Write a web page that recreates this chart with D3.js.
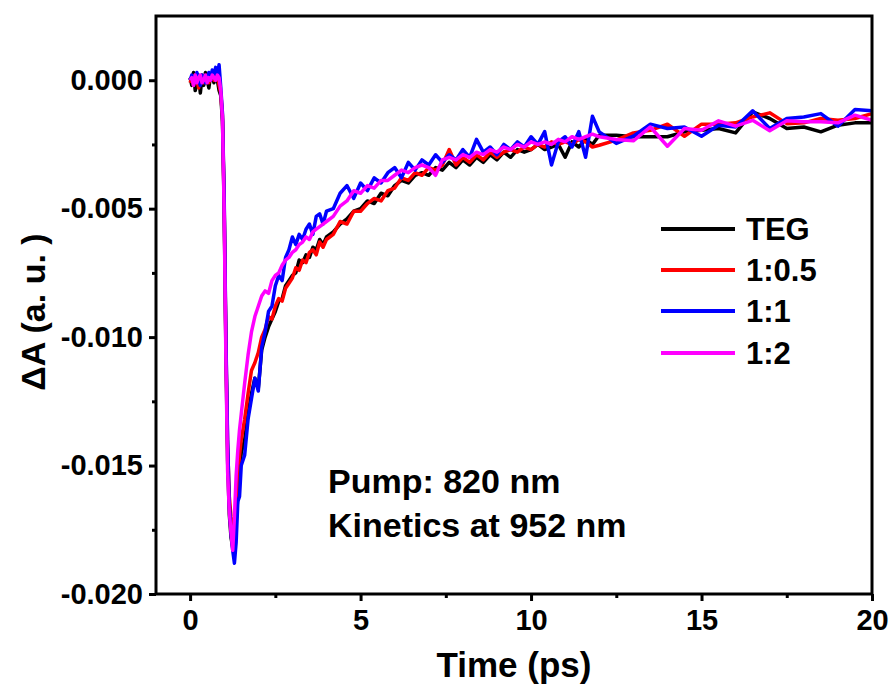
<!DOCTYPE html>
<html>
<head>
<meta charset="utf-8">
<script src="https://cdn.jsdelivr.net/npm/d3@7"></script>
<style>
  body { margin: 0; background: #fff; }
  svg text { font-family: "Liberation Sans", Arial, sans-serif; font-weight: bold; fill: #000; }
</style>
</head>
<body>
<div id="canvas"></div>
<script>
// Tiempos (ps)
const time = [
  0, 0.05, 0.1, 0.15, 0.2, 0.25, 0.3, 0.35, 0.4, 0.45, 0.5, 0.55, 0.6, 0.65, 0.7, 0.75, 0.8, 0.85, 0.9,
  0.95, 1, 1.05, 1.1, 1.15, 1.2, 1.25, 1.3, 1.35, 1.4, 1.45, 1.5,
  1.6, 1.7, 1.8, 1.9, 2, 2.1, 2.2, 2.3, 2.4, 2.5, 2.6, 2.7, 2.8, 2.9, 3, 3.1, 3.2, 3.3, 3.4, 3.5, 3.6, 3.7, 3.8, 3.9, 4,
  4.2, 4.4, 4.6, 4.8, 5, 5.2, 5.4, 5.6, 5.8, 6, 6.2, 6.4, 6.6, 6.8, 7, 7.2, 7.4, 7.6, 7.8, 8, 8.2, 8.4, 8.6, 8.8, 9,
  9.2, 9.4, 9.6, 9.8, 10, 10.2, 10.4, 10.6, 10.8, 11, 11.2, 11.4, 11.6, 11.8,
  12, 12.5, 13, 13.5, 14, 14.5, 15, 15.5, 16, 16.5, 17, 17.5, 18, 18.5, 19, 19.5, 20
];

// Valores de ΔA en unidades de 1e-3
const teg = [
  0.1, -0.2, 0.3, -0.4, -0.1, 0.2, -0.5, 0.1, -0.2, 0.3, 0.0, -0.3, 0.2, 0.1, -0.1, 0.3, 0.0, -0.4, -0.6,
  -1.6, -5.0, -10.5, -14.8, -16.9, -17.8, -18.2, -18.4, -17.2, -16.2, -15.3, -14.5,
  -14.0, -13.0, -12.2, -11.6, -12.0, -10.5, -10.0, -9.6, -9.3, -9.0, -8.6, -8.5, -8.0, -7.8, -7.6, -7.5, -7.0, -7.1, -6.8, -6.9, -6.5, -6.6, -6.2, -6.4, -6.1,
  -5.9, -5.6, -5.4, -5.1, -5.0, -4.7, -4.8, -4.4, -4.5, -4.1, -3.9, -4.0, -3.7, -3.6, -3.7, -3.4, -3.5, -3.2, -3.4, -3.1, -3.3, -3.0, -3.2, -2.9, -3.1,
  -2.8, -3.0, -2.7, -2.8, -2.7, -2.5, -2.7, -2.6, -2.5, -3.0, -2.4, -2.6, -2.3, -2.5,
  -2.14, -2.14, -2.20, -2.20, -2.20, -2.01, -1.95, -1.88, -2.05, -1.23, -1.49, -1.88, -1.82, -2.01, -1.75, -1.66, -1.66
];
const r05 = [
  -0.1, 0.1, -0.2, 0.2, 0.0, -0.3, 0.1, 0.2, -0.1, 0.0, 0.2, -0.1, 0.1, 0.2, 0.0, 0.1, 0.2, -0.2, -0.5,
  -1.4, -4.8, -10.2, -14.2, -16.2, -17.0, -17.5, -17.2, -16.6, -15.4, -14.6, -14.0,
  -13.2, -12.2, -11.3, -11.0, -10.6, -10.0, -9.7, -9.2, -9.3, -8.8, -8.5, -8.6, -8.1, -7.9, -7.7, -7.3, -7.4, -7.0, -7.1, -6.7, -6.6, -6.8, -6.3, -6.5, -6.2,
  -6.0, -5.5, -5.6, -5.1, -5.1, -4.8, -4.6, -4.7, -4.3, -4.2, -3.8, -3.9, -3.6, -3.7, -3.4, -3.5, -3.3, -2.7, -3.3, -3.0, -3.2, -2.9, -3.1, -2.8, -3.0,
  -2.8, -2.7, -2.8, -2.6, -2.7, -2.5, -2.6, -2.4, -2.5, -2.4, -2.5, -2.3, -2.4, -2.6,
  -2.53, -2.33, -2.05, -1.95, -1.71, -2.18, -1.71, -1.71, -1.66, -1.43, -1.27, -1.69, -1.66, -1.49, -1.56, -1.49, -1.30
];
const r1 = [
  0.0, 0.2, 0.1, -0.1, 0.3, 0.0, -0.2, 0.2, 0.1, -0.1, 0.1, 0.3, 0.0, 0.4, 0.2, 0.5, 0.2, 0.6, -0.3,
  -1.3, -4.6, -10.0, -14.0, -16.5, -17.6, -18.3, -18.8, -18.0, -16.4, -16.2, -15.0,
  -14.6, -13.2, -12.4, -11.6, -12.1, -10.4, -9.8, -9.0, -8.8, -8.0, -7.6, -7.8, -6.9, -6.6, -6.1, -6.4, -6.0, -6.2, -5.8, -5.6, -6.0, -5.3, -5.2, -5.6, -5.1,
  -5.0, -4.4, -4.1, -4.6, -4.0, -4.3, -3.8, -4.0, -3.6, -3.4, -3.8, -3.2, -3.5, -3.1, -3.3, -2.9, -3.2, -2.9, -3.1, -2.7, -3.0, -2.3, -2.8, -2.6, -2.9,
  -2.5, -2.7, -2.4, -2.6, -2.2, -2.5, -2.0, -3.3, -2.4, -2.2, -2.6, -2.0, -3.0, -1.4,
  -2.01, -2.46, -2.18, -1.71, -1.88, -1.82, -2.18, -1.75, -1.82, -1.19, -1.88, -1.49, -1.43, -1.30, -1.79, -1.14, -1.19
];
const r2 = [
  0.0, 0.1, -0.2, 0.2, -0.1, 0.1, 0.2, -0.1, 0.0, 0.2, -0.1, 0.1, 0.0, 0.2, 0.1, 0.0, 0.2, 0.1, -0.4,
  -1.5, -5.2, -10.8, -15.2, -16.8, -17.6, -18.3, -17.0, -15.4, -14.4, -13.6, -13.0,
  -11.8, -10.7, -9.8, -9.2, -8.8, -8.4, -8.2, -8.3, -7.8, -7.6, -7.5, -7.2, -7.0, -6.9, -6.7, -6.6, -6.4, -6.3, -6.1, -6.2, -5.9, -5.8, -5.7, -5.6, -5.5,
  -5.3, -4.9, -4.7, -4.3, -4.4, -4.1, -4.2, -3.9, -3.9, -3.7, -3.5, -3.6, -3.4, -3.3, -3.4, -3.7, -3.1, -3.0, -3.1, -2.9, -3.0, -2.8, -2.9, -2.7, -2.8,
  -2.6, -2.7, -2.5, -2.6, -2.4, -2.5, -2.4, -2.5, -2.3, -2.4, -2.2, -2.3, -2.2, -2.1,
  -2.20, -2.31, -2.36, -1.82, -2.57, -1.88, -1.95, -1.58, -1.79, -1.56, -1.97, -1.58, -1.62, -1.62, -1.66, -1.36, -1.56
];

// Nombres y colores de las series
const seriesNames = ["TEG", "1:0.5", "1:1", "1:2"];
const seriesColors = ["#000000", "#ff0000", "#0000ff", "#ff00ff"];
const seriesValues = [teg, r05, r1, r2];

// Ticks de los ejes
const xTicks = [0, 5, 10, 15, 20];
const xMinor = [2.5, 7.5, 12.5, 17.5];
const yTicks = [0, -0.005, -0.010, -0.015, -0.020];
const yMinor = [-0.0025, -0.0075, -0.0125, -0.0175];

// Caracteristicas del canvas
const width = 889;
const height = 691;
const margin = {top: 16, left: 156, bottom: 97, right: 17};
const iwidth = width - margin.left - margin.right;
const iheight = height - margin.top - margin.bottom;

const svg = d3.select("#canvas").append("svg")
    .attr("width", width)
    .attr("height", height);

const g = svg.append("g").attr("transform", `translate(${margin.left}, ${margin.top})`);

const x = d3.scaleLinear().domain([-1, 20]).range([0, iwidth]);
const y = d3.scaleLinear().domain([-0.020, 0.0025]).range([iheight, 0]);

// Lineas de cada serie
const line = d3.line()
    .x((d, i) => x(time[i]))
    .y(d => y(d / 1000));

seriesValues.forEach((vals, k) => {
    g.append("path")
        .datum(vals)
        .attr("fill", "none")
        .attr("stroke", seriesColors[k])
        .attr("stroke-width", 3.5)
        .attr("stroke-linejoin", "round")
        .attr("d", line);
});

// Eje x
const xAxis = g.append("g")
    .attr("transform", `translate(0, ${iheight})`)
    .call(d3.axisBottom(x).tickValues(xTicks).tickSize(7).tickPadding(8).tickFormat(d => d));
const xAxisMinor = g.append("g")
    .attr("transform", `translate(0, ${iheight})`)
    .call(d3.axisBottom(x).tickValues(xMinor).tickSize(4).tickFormat(""));

// Eje y
const yAxis = g.append("g")
    .call(d3.axisLeft(y).tickValues(yTicks).tickSize(7).tickPadding(6).tickFormat(d => d.toFixed(3)));
const yAxisMinor = g.append("g")
    .call(d3.axisLeft(y).tickValues(yMinor).tickSize(4).tickFormat(""));

[xAxis, xAxisMinor, yAxis, yAxisMinor].forEach(a => {
    a.select(".domain").remove();
    a.selectAll("line").attr("stroke", "#000").attr("stroke-width", 3);
});
xAxis.selectAll("text").style("font-size", "29px").attr("fill", "#000");
yAxis.selectAll("text").style("font-size", "29px").attr("fill", "#000");

// Marco
g.append("rect")
    .attr("x", 0).attr("y", 0)
    .attr("width", iwidth).attr("height", iheight)
    .attr("fill", "none")
    .attr("stroke", "#000")
    .attr("stroke-width", 3);

// Titulos de los ejes
svg.append("text")
    .attr("text-anchor", "middle")
    .style("font-size", "35px")
    .attr("x", 514)
    .attr("y", 677)
    .text("Time (ps)");

svg.append("text")
    .attr("text-anchor", "middle")
    .style("font-size", "34px")
    .attr("transform", "translate(45, 312) rotate(-90)")
    .text("ΔA (a. u. )");

// Anotacion
svg.append("text")
    .style("font-size", "34px")
    .attr("x", 328).attr("y", 493)
    .text("Pump: 820 nm");
svg.append("text")
    .style("font-size", "34px")
    .attr("x", 328).attr("y", 537)
    .text("Kinetics at 952 nm");

// Leyenda
const legendY = [229, 270, 311, 353];
seriesNames.forEach((name, k) => {
    svg.append("line")
        .attr("x1", 661).attr("x2", 735)
        .attr("y1", legendY[k]).attr("y2", legendY[k])
        .attr("stroke", seriesColors[k])
        .attr("stroke-width", 4);
    svg.append("text")
        .style("font-size", "31px")
        .attr("x", 746).attr("y", legendY[k])
        .attr("dy", "0.36em")
        .text(name);
});
</script>
</body>
</html>
